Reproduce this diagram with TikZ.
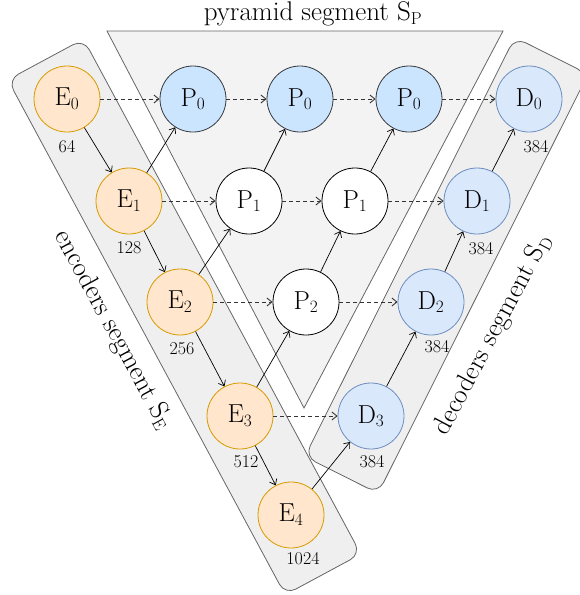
\documentclass[tikz,border=0pt]{standalone}
\usetikzlibrary{arrows.meta}
\definecolor{encfill}{HTML}{FFE6CC}
\definecolor{encdraw}{HTML}{D79B00}
\definecolor{pyrfill}{HTML}{CCE5FF}
\definecolor{pyrdraw}{HTML}{36393D}
\definecolor{decfill}{HTML}{DAE8FC}
\definecolor{decdraw}{HTML}{6C8EBF}
\definecolor{segfill}{HTML}{EFEFEF}
\definecolor{trifill}{HTML}{F3F3F3}
\definecolor{segdraw}{HTML}{666666}
\begin{document}
\begin{tikzpicture}[x=1pt,y=1pt,
    >={Straight Barb[length=5pt,width=8pt]},
    unit/.style={circle,minimum size=66pt,inner sep=0pt,line width=0.8pt,font=\fontsize{26}{30}\selectfont},
    enc/.style={unit,fill=encfill,draw=encdraw},
    pyr/.style={unit,fill=pyrfill,draw=pyrdraw},
    mid/.style={unit,fill=white,draw=black},
    dec/.style={unit,fill=decfill,draw=decdraw},
    chan/.style={font=\fontsize{18}{20}\selectfont},
    segname/.style={font=\fontsize{27}{30}\selectfont},
    segbox/.style={fill=segfill,draw=segdraw,line width=0.8pt,rounded corners=12pt},
    skip/.style={->,dashed,dash pattern=on 4pt off 3pt,draw=black!80,line width=0.9pt},
    flow/.style={->,line width=0.7pt}]
    \useasboundingbox (0,0) rectangle (579,-595);
    %pyramid segment
    \filldraw[fill=trifill,draw=segdraw,line width=0.8pt] (107,-31) -- (503,-31) -- (304,-408) -- cycle;
    \node[segname] (tP) at (313,-14) {pyramid segment S$_\mathrm{P}$};
    %encoders segment
    \begin{scope}[shift={(67,-99)},rotate=-61.7]
        \filldraw[segbox] (-45,-43) rectangle (540,43);
    \end{scope}
    \node[segname,rotate=-61.5] (tE) at (113,-330) {encoders segment S$_\mathrm{E}$};
    %decoders segment
    \begin{scope}[shift={(371,-416)},rotate=63.4]
        \filldraw[segbox] (-66,-41) rectangle (403,41);
    \end{scope}
    \node[segname,rotate=62] (tD) at (493,-335) {decoders segment S$_\mathrm{D}$};
    %encoders
    \node[enc] (E0) at (67,-99) {E$_0$};
    \node[enc] (E1) at (129,-201) {E$_1$};
    \node[enc] (E2) at (180,-302) {E$_2$};
    \node[enc] (E3) at (240,-416) {E$_3$};
    \node[enc] (E4) at (291,-515) {E$_4$};
    \node[chan] (nE0) at (67,-147) {64};
    \node[chan] (nE1) at (129,-248) {128};
    \node[chan] (nE2) at (182,-349) {256};
    \node[chan] (nE3) at (246,-462) {512};
    \node[chan] (nE4) at (303,-559) {1024};
    %pyramid
    \node[pyr] (Pa0) at (193,-99) {P$_0$};
    \node[pyr] (Pb0) at (300,-99) {P$_0$};
    \node[pyr] (Pc0) at (409,-99) {P$_0$};
    \node[mid] (Pa1) at (249,-201) {P$_1$};
    \node[mid] (Pb1) at (355,-201) {P$_1$};
    \node[mid] (Pa2) at (306,-302) {P$_2$};
    %decoders
    \node[dec] (D0) at (529,-99) {D$_0$};
    \node[dec] (D1) at (477,-201) {D$_1$};
    \node[dec] (D2) at (431,-302) {D$_2$};
    \node[dec] (D3) at (371,-416) {D$_3$};
    \node[chan] (nD0) at (536,-147) {384};
    \node[chan] (nD1) at (481,-249) {384};
    \node[chan] (nD2) at (437,-347) {384};
    \node[chan] (nD3) at (372,-462) {384};
    %down the encoders
    \draw[flow] (E0) -- (E1);
    \draw[flow] (E1) -- (E2);
    \draw[flow] (E2) -- (E3);
    \draw[flow] (E3) -- (E4);
    %up the pyramid and the decoders
    \draw[flow] (E1) -- (Pa0);
    \draw[flow] (E2) -- (Pa1);
    \draw[flow] (E3) -- (Pa2);
    \draw[flow] (E4) -- (D3);
    \draw[flow] (Pa1) -- (Pb0);
    \draw[flow] (Pa2) -- (Pb1);
    \draw[flow] (Pb1) -- (Pc0);
    \draw[flow] (D3) -- (D2);
    \draw[flow] (D2) -- (D1);
    \draw[flow] (D1) -- (D0);
    %skip connections
    \draw[skip] (E0) -- (Pa0);
    \draw[skip] (Pa0) -- (Pb0);
    \draw[skip] (Pb0) -- (Pc0);
    \draw[skip] (Pc0) -- (D0);
    \draw[skip] (E1) -- (Pa1);
    \draw[skip] (Pa1) -- (Pb1);
    \draw[skip] (Pb1) -- (D1);
    \draw[skip] (E2) -- (Pa2);
    \draw[skip] (Pa2) -- (D2);
    \draw[skip] (E3) -- (D3);
\end{tikzpicture}
\end{document}
